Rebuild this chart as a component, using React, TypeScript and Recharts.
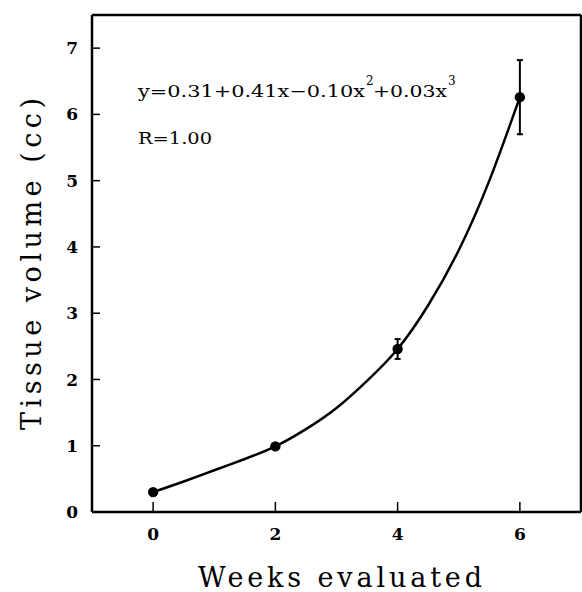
import { ComposedChart, Line, Scatter, ErrorBar, XAxis, YAxis, ZAxis } from "recharts"

// measured points (weeks, volume in cc, +/- error)
const weeks = [0, 2, 4, 6]
const volume = [0.3, 0.99, 2.46, 6.26]
const volumeErr = [0, 0, 0.15, 0.56]

// fitted curve
const curveWeeks = [0, 0.5, 1, 1.5, 2, 2.5, 3, 3.5, 4, 4.5, 5, 5.5, 6]
const curveVolume = [0.3, 0.46, 0.63, 0.8, 0.99, 1.25, 1.57, 1.98, 2.46, 3.12, 3.95, 5.0, 6.26]

const xTicks = [0, 2, 4, 6]
const yTicks = [0, 1, 2, 3, 4, 5, 6, 7]

const points = weeks.map((w, i) => ({ x: w, y: volume[i], err: volumeErr[i] }))
const curve = curveWeeks.map((w, i) => ({ x: w, y: curveVolume[i] }))

const tickFont = { fontFamily: "'DejaVu Serif', serif", fontWeight: 700, fontSize: 17, fill: "#000" }
const axisLine = { stroke: "#000", strokeWidth: 2.5 }
const tickLine = { stroke: "#000", strokeWidth: 1.5 }

export default function App() {
  return (
    <div style={{ position: "absolute", left: 0, top: 0, width: 582, height: 592, background: "#fff" }}>
      <ComposedChart width={582} height={592} margin={{ top: 0, right: 0, bottom: 0, left: 0 }}>
        <XAxis
          xAxisId="b"
          dataKey="x"
          type="number"
          domain={[-1, 7]}
          ticks={xTicks}
          allowDataOverflow
          height={80}
          axisLine={axisLine}
          tickLine={tickLine}
          tickSize={-10}
          tickMargin={26}
          tick={tickFont}
        />
        <XAxis
          xAxisId="t"
          orientation="top"
          dataKey="x"
          type="number"
          domain={[-1, 7]}
          ticks={xTicks}
          allowDataOverflow
          height={15}
          axisLine={axisLine}
          tickLine={tickLine}
          tickSize={-10}
          tick={false}
        />
        <YAxis
          yAxisId="l"
          type="number"
          domain={[0, 7.5]}
          ticks={yTicks}
          allowDataOverflow
          width={92}
          axisLine={axisLine}
          tickLine={tickLine}
          tickSize={-8}
          tickMargin={22}
          tick={tickFont}
        />
        <YAxis
          yAxisId="r"
          orientation="right"
          type="number"
          domain={[0, 7.5]}
          ticks={yTicks}
          allowDataOverflow
          width={1}
          axisLine={axisLine}
          tickLine={tickLine}
          tickSize={-7}
          tick={false}
        />
        <ZAxis zAxisId="z" range={[85, 85]} />
        <Line
          xAxisId="b"
          yAxisId="l"
          data={curve}
          dataKey="y"
          type="natural"
          stroke="#000"
          strokeWidth={2.5}
          dot={false}
          isAnimationActive={false}
        />
        <Scatter xAxisId="b" yAxisId="l" zAxisId="z" data={points} dataKey="y" fill="#000" isAnimationActive={false}>
          <ErrorBar dataKey="err" direction="y" width={3} stroke="#000" strokeWidth={2} />
        </Scatter>
      </ComposedChart>
      <svg width={582} height={592} style={{ position: "absolute", left: 0, top: 0, pointerEvents: "none" }}>
        <g fontFamily="'DejaVu Serif', serif" fill="#000">
          <text x={138} y={97} fontSize={17} textLength={227} lengthAdjust="spacingAndGlyphs">
            y=0.31+0.41x−0.10x
          </text>
          <text x={366} y={85} fontSize={12}>2</text>
          <text x={373} y={97} fontSize={17} textLength={74} lengthAdjust="spacingAndGlyphs">
            +0.03x
          </text>
          <text x={448} y={85} fontSize={12}>3</text>
          <text x={138} y={144} fontSize={17} textLength={74} lengthAdjust="spacingAndGlyphs">
            R=1.00
          </text>
          <text x={198} y={587} fontSize={27} textLength={284} lengthAdjust="spacing">
            Weeks evaluated
          </text>
          <text
            transform="translate(41, 430) rotate(-90)"
            x={0}
            y={0}
            fontSize={27}
            textLength={332}
            lengthAdjust="spacing"
          >
            Tissue volume (cc)
          </text>
        </g>
      </svg>
    </div>
  )
}
